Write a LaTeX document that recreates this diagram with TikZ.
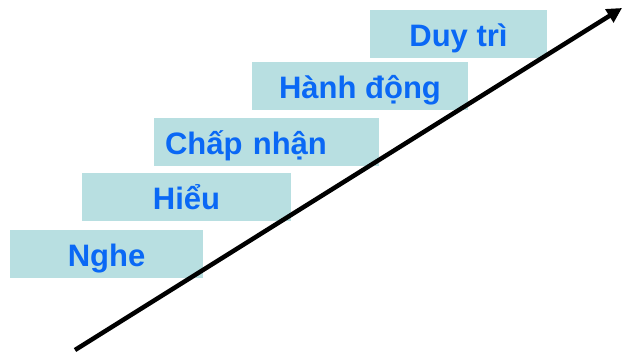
\documentclass[tikz,border=0pt]{standalone}
\usepackage{fontspec}
\setmainfont{Liberation Sans}
\usetikzlibrary{arrows.meta}
\definecolor{stepfill}{HTML}{B8DFE1}
\definecolor{steptext}{HTML}{0A68F5}

\begin{document}
\begin{tikzpicture}[x=1pt,y=-1pt,
    stepbox/.style={fill=stepfill, text=steptext, inner sep=0pt, minimum height=48pt,
        text height=28pt, text depth=4pt,
        font=\fontsize{31}{36}\selectfont\bfseries}]
    \useasboundingbox (0,0) rectangle (628,356);

    % Steps, bottom to top
    \node[stepbox, minimum width=193pt] (nghe) at (106.5,254) {Nghe};
    \node[stepbox, minimum width=209pt] (hieu) at (186.5,197) {Hiểu};
    \node[stepbox, minimum width=225pt, text width=203pt, inner xsep=11pt, align=left] (chapnhan) at (266.5,142) {Chấp nhận};
    \node[stepbox, minimum width=216pt] (hanhdong) at (360,86) {Hành động};
    \node[stepbox, minimum width=177pt] (duytri) at (458.5,34) {Duy trì};

    % Rising arrow
    \coordinate (start) at (75,350);
    \coordinate (tip) at (622,8);
    \draw[line width=4.5pt, -{Triangle[length=15pt,width=15pt]}] (start) -- (tip);
\end{tikzpicture}
\end{document}
